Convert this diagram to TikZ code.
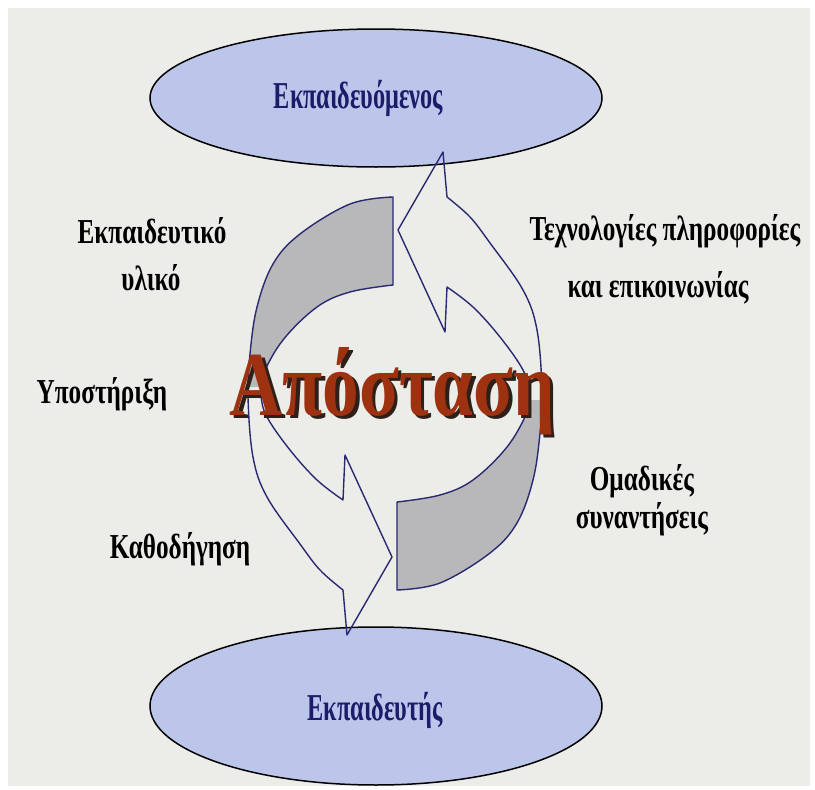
\documentclass[tikz,border=0pt]{standalone}
\usepackage{fontspec}
\usepackage{graphicx}
\setmainfont{Liberation Serif}[FakeStretch=0.72]
\newfontfamily\ellfont{Liberation Serif}[FakeStretch=0.64]
\definecolor{bgc}{HTML}{ECECE8}
\definecolor{ellc}{HTML}{BCC6EA}
\definecolor{navy}{HTML}{1C1C6B}
\definecolor{arrc}{HTML}{2A2A72}
\definecolor{grayc}{HTML}{B8B8BA}
\definecolor{redc}{HTML}{9E3210}
\definecolor{shadc}{HTML}{2E2018}
\newcommand{\bigword}{\resizebox{325pt}{68pt}{\bfseries Απόσταση}}
\begin{document}
\begin{tikzpicture}[x=1pt,y=-1pt,
  lab/.style={font=\fontsize{35}{38}\selectfont\bfseries, text=black, anchor=base, inner sep=0pt},
  elab/.style={font=\ellfont\fontsize{38}{40}\selectfont\bfseries, text=navy, anchor=base, inner sep=0pt},
  ellbox/.style={draw=black, line width=1.5pt, fill=ellc},
  arrline/.style={draw=arrc, line width=1.4pt, line join=round},
  grayfill/.style={fill=grayc}]
\useasboundingbox (0,0) rectangle (815,790);
\fill[white] (0,0) rectangle (815,790);
\fill[bgc] (8,8) rectangle (810,786);
% ellipses
\path[ellbox] (376,98) ellipse [x radius=226, y radius=69];
\path[ellbox] (376,706) ellipse [x radius=226, y radius=79];
\coordinate (top) at (376,98);
\coordinate (bot) at (376,706);
% circular arrows
\foreach \r in {0,180}{
  \begin{scope}[rotate around={\r:(395,393.5)}]
  \path[grayfill] plot[smooth,tension=0.6] coordinates {(397,590) (440,583) (490,553) (517,523) (533,480) (540,433) (542,400)}
     -- (528,400)
     -- plot[smooth,tension=0.6] coordinates {(528,400) (527,412) (507,447) (473,480) (440,495) (397,502)} -- cycle;
  \path[arrline] plot[smooth,tension=0.6] coordinates {(397,590) (440,583) (490,553) (517,523) (533,480) (540,433) (542,390) (537,330) (523,290) (490,243) (470,217) (447,197)}
     -- (443,152) -- (398,230) -- (445,332) -- (447,287)
     -- plot[smooth,tension=0.6] coordinates {(447,287) (473,307) (500,337) (523,370) (529,392) (527,412) (507,447) (473,480) (440,495) (397,502)} -- cycle;
  \end{scope}
}
% labels
\node[elab] (learner) at (358.5,108) {Εκπαιδευόμενος};
\node[elab] (trainer) at (375,720) {Εκπαιδευτής};
\node[lab] (mat1) at (152,243) {Εκπαιδευτικό};
\node[lab] (mat2) at (151,290) {υλικό};
\node[lab] (supp) at (102,403) {Υποστήριξη};
\node[lab] (guid) at (180,558) {Καθοδήγηση};
\node[lab] (tech1) at (665,240) {Τεχνολογίες πληροφορίες};
\node[lab] (tech2) at (658,297) {και επικοινωνίας};
\node[lab] (grp1) at (642,490) {Ομαδικές};
\node[lab] (grp2) at (642,528) {συναντήσεις};
% central word with drop shadow
\node[anchor=base, inner sep=0pt, text=redc] (dist) at (392.5,415)
  {\rlap{\hspace{3.5pt}\raisebox{-3pt}{\textcolor{shadc}{\bigword}}}\bigword};
\end{tikzpicture}
\end{document}
